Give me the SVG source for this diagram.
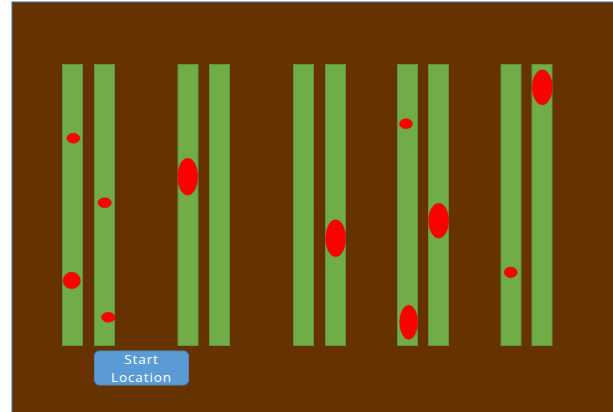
<svg xmlns="http://www.w3.org/2000/svg" width="613" height="412" viewBox="0 0 613 412">
<style>
.strip{fill:#70AD47;stroke:#5F9440;stroke-width:1}
.fruit{fill:#FF0000;stroke:#E00000;stroke-width:0.5}
.btn{fill:#5B9BD5;stroke:#4F8AC0;stroke-width:1}
.lbl{font-family:"Open Sans","Liberation Sans",sans-serif;font-size:13.5px;letter-spacing:0.9px;fill:#FFFFFF;text-anchor:middle}
</style>
<rect x="0" y="0" width="613" height="412" fill="#FFFFFF"/>
<rect x="12" y="2" width="603" height="412" fill="#663300" stroke="#41719C" stroke-width="1"/>
<g id="rows">
<rect class="strip" x="62.5" y="64.5" width="20" height="281"/>
<rect class="strip" x="94.5" y="64.5" width="20" height="281"/>
<rect class="strip" x="178" y="64.5" width="20" height="281"/>
<rect class="strip" x="209.5" y="64.5" width="20" height="281"/>
<rect class="strip" x="293.5" y="64.5" width="20" height="281"/>
<rect class="strip" x="325.5" y="64.5" width="20" height="281"/>
<rect class="strip" x="397.5" y="64.5" width="20" height="281"/>
<rect class="strip" x="428.5" y="64.5" width="20" height="281"/>
<rect class="strip" x="501" y="64.5" width="20" height="281"/>
<rect class="strip" x="532" y="64.5" width="20" height="281"/>
</g>
<g id="fruits">
<ellipse class="fruit" cx="73.3" cy="138.3" rx="6.5" ry="5"/>
<ellipse class="fruit" cx="104.7" cy="202.7" rx="6.7" ry="5"/>
<ellipse class="fruit" cx="71.7" cy="280.5" rx="8.7" ry="8.3"/>
<ellipse class="fruit" cx="108.3" cy="317.3" rx="6.7" ry="5"/>
<ellipse class="fruit" cx="187.7" cy="176.7" rx="10" ry="18.5"/>
<ellipse class="fruit" cx="335.7" cy="238.3" rx="10" ry="18.5"/>
<ellipse class="fruit" cx="406" cy="123.7" rx="6.5" ry="5"/>
<ellipse class="fruit" cx="438.7" cy="220.7" rx="10" ry="17.5"/>
<ellipse class="fruit" cx="408.7" cy="322.3" rx="9" ry="17"/>
<ellipse class="fruit" cx="510.7" cy="272.3" rx="6.5" ry="5.3"/>
<ellipse class="fruit" cx="542.3" cy="87.3" rx="10" ry="17.5"/>
</g>
<g id="start">
<rect class="btn" x="94.5" y="351" width="94" height="34" rx="5"/>
<text class="lbl" x="141.5" y="364">Start</text>
<text class="lbl" x="141.5" y="381.5">Location</text>
</g>
</svg>
